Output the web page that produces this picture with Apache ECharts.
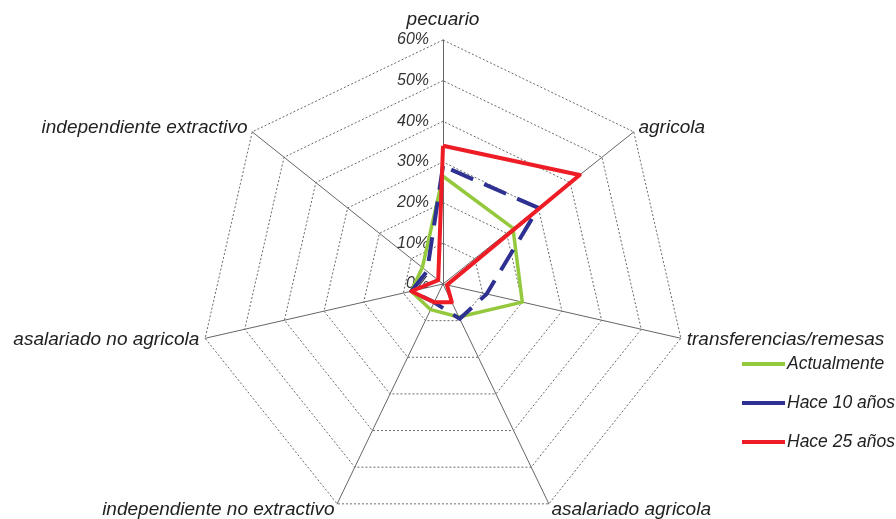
<!DOCTYPE html>
<html>
<head>
<meta charset="utf-8">
<style>
  html, body { margin: 0; padding: 0; background: #fff; }
  #chart { width: 896px; height: 519px; }
</style>
<script src="https://cdn.jsdelivr.net/npm/echarts@6/dist/echarts.min.js"></script>
</head>
<body>
<div id="chart"></div>
<script>
// Categories in the picture's clockwise order, starting at the top
const categories = ['pecuario', 'agricola', 'transferencias/remesas', 'asalariado agricola',
  'independiente no extractivo', 'asalariado no agricola', 'independiente extractivo'];
const seriesNames = ['Actualmente', 'Hace 10 años', 'Hace 25 años'];
const actualmente = [26.5, 22, 20, 9, 7, 8, 6.5];
const hace10 = [29, 30, 11, 9.5, 5, 8, 5];
const hace25 = [34, 43, 1, 5, 5, 8, 1.5];
const axisMax = 60;
const tickCount = 6;

// ECharts places radar indicators counter-clockwise; reorder to keep the picture's clockwise order
function toEchartsOrder(arr) {
  return [arr[0]].concat(arr.slice(1).reverse());
}

const chart = echarts.init(document.getElementById('chart'), null, { renderer: 'canvas' });

const indicators = toEchartsOrder(categories).map(function (name, i) {
  const ind = { name: name, min: 0, max: axisMax, nameGap: i === 0 ? 11 : 6 };
  if (i !== 0) ind.axisLabel = { show: false };
  return ind;
});

const font = 'Liberation Sans, Arial, sans-serif';

chart.setOption({
  animation: false,
  backgroundColor: '#ffffff',
  legend: {
    orient: 'vertical',
    left: 737,
    top: 350,
    itemWidth: 43,
    itemHeight: 4,
    itemGap: 21,
    icon: 'rect',
    textStyle: { fontFamily: font, fontStyle: 'italic', fontSize: 17.5, color: '#222', padding: [0, 0, 0, -3] },
    data: seriesNames
  },
  radar: {
    center: [443, 284],
    radius: 244,
    startAngle: 90,
    shape: 'polygon',
    splitNumber: tickCount,
    indicator: indicators,
    axisName: {
      fontFamily: font,
      fontStyle: 'italic',
      fontSize: 19,
      color: '#222'
    },
    axisLine: { lineStyle: { color: '#666', width: 1 } },
    splitLine: { lineStyle: { color: '#6a6a6a', width: 1, type: [2, 2] } },
    splitArea: { show: false },
    axisLabel: {
      show: true,
      formatter: '{value}%',
      fontFamily: font,
      fontStyle: 'italic',
      fontSize: 16,
      color: '#333',
      margin: 14
    }
  },
  series: [{
    type: 'radar',
    symbol: 'none',
    data: [
      {
        name: seriesNames[0],
        value: toEchartsOrder(actualmente),
        itemStyle: { color: '#94c83d' },
        lineStyle: { color: '#94c83d', width: 3.5 }
      },
      {
        name: seriesNames[1],
        value: toEchartsOrder(hace10),
        itemStyle: { color: '#2e3192' },
        lineStyle: { color: '#2e3192', width: 4, type: [24, 12] }
      },
      {
        name: seriesNames[2],
        value: toEchartsOrder(hace25),
        itemStyle: { color: '#ee1c24' },
        lineStyle: { color: '#ee1c24', width: 4 }
      }
    ]
  }]
});
</script>
</body>
</html>
